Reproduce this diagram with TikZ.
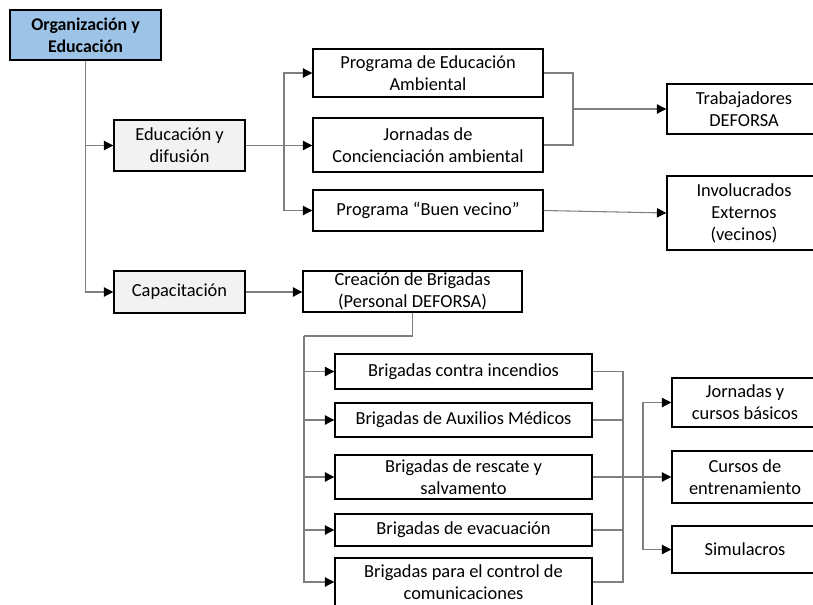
\documentclass[tikz,border=0pt]{standalone}
\usepackage{fontspec}
\setmainfont{Carlito}
\usetikzlibrary{arrows.meta}
\definecolor{orgblue}{HTML}{9DC3E6}
\definecolor{boxgray}{HTML}{F2F2F2}
\definecolor{linegray}{HTML}{7F7F7F}
\begin{document}
\begin{tikzpicture}[x=0.75pt,y=-0.75pt,
  box/.style={draw=black, line width=1.1pt, align=center, inner sep=0pt,
    font=\fontsize{13.8}{16.5}\selectfont, fill=white},
  conn/.style={draw=linegray, line width=0.8pt},
  arr/.style={conn, -{Triangle[length=7pt,width=7pt,color=black,fill=black]}}]
\useasboundingbox (0,0) rectangle (813,604);
\clip (0,0) rectangle (813,604);

% level 0 / 1
\node[box, fill=orgblue, font=\fontsize{13.4}{16.5}\selectfont\bfseries,
  minimum width=113.25pt, minimum height=37.5pt] (org) at (85.5,35) {Organización y\\Educación};
\node[box, fill=boxgray, minimum width=98.25pt, minimum height=38.25pt] (edu) at (179.5,145.5) {Educación y\\difusión};
\node[box, fill=boxgray, minimum width=98.25pt, minimum height=31.5pt] (cap) at (179.5,292) {Capacitación};

% education branch
\node[box, minimum width=172.5pt, minimum height=36pt] (p1) at (428,73) {Programa de Educación\\Ambiental};
\node[box, minimum width=172.5pt, minimum height=40.5pt] (p2) at (428,145) {Jornadas de\\Concienciación ambiental};
\node[box, minimum width=172.5pt, minimum height=30.75pt] (p3) at (428,210.5) {Programa “Buen vecino”};
\node[box, minimum width=115.5pt, minimum height=37.5pt] (trab) at (744,109) {Trabajadores\\DEFORSA};
\node[box, minimum width=115.5pt, minimum height=55.5pt] (inv) at (744,213) {Involucrados\\Externos\\(vecinos)};

% training branch
\node[box, minimum width=164.25pt, minimum height=30.75pt] (creac) at (412.5,291.5) {Creación de Brigadas\\(Personal DEFORSA)};
\node[box, minimum width=192.75pt, minimum height=26.25pt] (b1) at (463.5,371.5) {Brigadas contra incendios};
\node[box, minimum width=192.75pt, minimum height=25.5pt] (b2) at (463.5,420) {Brigadas de Auxilios Médicos};
\node[box, minimum width=192.75pt, minimum height=33pt] (b3) at (463.5,477) {Brigadas de rescate y\\salvamento};
\node[box, minimum width=192.75pt, minimum height=24pt] (b4) at (463.5,530) {Brigadas de evacuación};
\node[box, minimum width=192.75pt, minimum height=36pt] (b5) at (463.5,582) {Brigadas para el control de\\comunicaciones};
\node[box, minimum width=109.5pt, minimum height=36.75pt] (jc1) at (745,402.5) {Jornadas y\\cursos básicos};
\node[box, minimum width=109.5pt, minimum height=39pt] (jc2) at (745,477) {Cursos de\\entrenamiento};
\node[box, minimum width=109.5pt, minimum height=35.25pt] (jc3) at (745,549.5) {Simulacros};

% junction coordinates
\coordinate (ja) at (284,145.5);
\coordinate (jb) at (573,109);
\coordinate (jc) at (304,336);
\coordinate (jd) at (623,477);
\coordinate (je) at (643,477);

% connectors
\draw[arr] (org.south) |- (edu.west);
\draw[arr] (org.south) |- (cap.west);
\draw[arr] (edu.east) -- (edu.east -| p2.west);
\draw[arr] (ja) |- (p1.west);
\draw[arr] (ja) |- (p3.west);
\draw[conn] (p1.east) -| (jb) |- (p2.east);
\draw[arr] (jb) -- (trab.west);
\draw[arr] (p3.east) -- (inv.west);
\draw[arr] (cap.east) -- (cap.east -| creac.west);
\draw[conn] (creac.south) |- (jc);
\draw[arr] (jc) |- (b1.west);
\draw[arr] (jc) |- (b2.west);
\draw[arr] (jc) |- (b3.west);
\draw[arr] (jc) |- (b4.west);
\draw[arr] (jc) |- (b5.west);
\draw[conn] (b1.east) -| (jd) |- (b5.east);
\draw[conn] (b2.east) -- (b2.east -| jd);
\draw[conn] (b4.east) -- (b4.east -| jd);
\draw[arr] (b3.east) -- (b3.east -| jc2.west);
\draw[arr] (je) |- (jc1.west);
\draw[arr] (je) |- (jc3.west);
\end{tikzpicture}
\end{document}
